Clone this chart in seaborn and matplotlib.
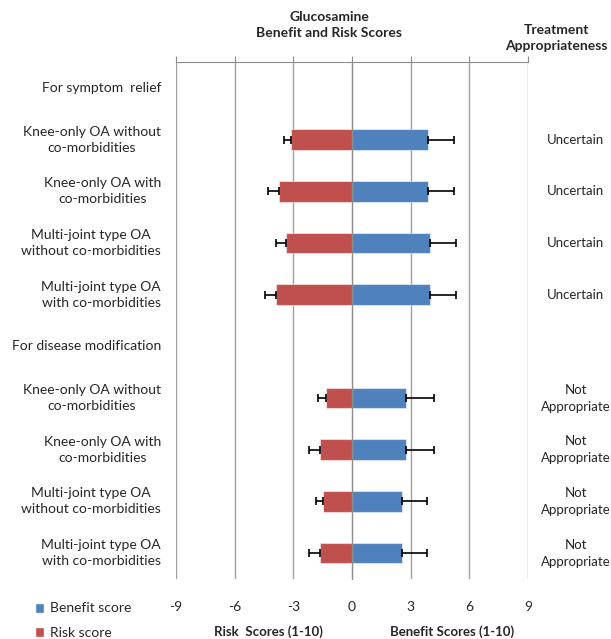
import numpy as np
import pandas as pd
import matplotlib
matplotlib.use("Agg")
import matplotlib.pyplot as plt
import seaborn as sns
from matplotlib.patches import Patch

# --- DATA ---
row_labels = [
    "For symptom  relief",
    "Knee-only OA without\nco-morbidities",
    "Knee-only OA with\nco-morbidities",
    "Multi-joint type OA\nwithout co-morbidities",
    "Multi-joint type OA\nwith co-morbidities",
    "For disease modification",
    "Knee-only OA without\nco-morbidities",
    "Knee-only OA with\nco-morbidities",
    "Multi-joint type OA\nwithout co-morbidities",
    "Multi-joint type OA\nwith co-morbidities",
]
benefit = [np.nan, 3.9, 3.9, 4.0, 4.0, np.nan, 2.75, 2.75, 2.55, 2.55]
benefit_err = [np.nan, 1.3, 1.3, 1.3, 1.3, np.nan, 1.45, 1.45, 1.3, 1.3]
risk = [np.nan, 3.1, 3.75, 3.35, 3.9, np.nan, 1.35, 1.65, 1.5, 1.65]
risk_err = [np.nan, 0.4, 0.55, 0.55, 0.55, np.nan, 0.4, 0.55, 0.35, 0.55]
appropriateness = ["", "Uncertain", "Uncertain", "Uncertain", "Uncertain", "",
                   "Not\nAppropriate", "Not\nAppropriate", "Not\nAppropriate", "Not\nAppropriate"]
x_ticks = [-9, -6, -3, 0, 3, 6, 9]

BLUE = "#4F81BD"
RED = "#C0504D"
GRID = "#A0A0A0"

sns.set_style("white")
plt.rcParams["font.family"] = ["Lato", "DejaVu Sans"]

keys = [f"row{i}" for i in range(len(row_labels))]
df = pd.DataFrame({
    "row": keys * 2,
    "score": benefit + [-r for r in risk],
    "series": ["Benefit score"] * len(keys) + ["Risk score"] * len(keys),
})
df = df.dropna()

fig = plt.figure(figsize=(6.11, 6.39), dpi=100)
ax = fig.add_axes([176 / 611, 1 - 579 / 639, 352 / 611, 517 / 639])

sns.barplot(data=df, x="score", y="row", hue="series", order=keys, dodge=False,
            palette={"Benefit score": BLUE, "Risk score": RED}, width=0.4,
            saturation=1, orient="h", errorbar=None, legend=False, ax=ax,
            edgecolor=(1, 1, 1, 0.5), linewidth=0.8)

# one-sided error bars
ypos = np.arange(len(keys))
b = np.array(benefit)
be = np.array(benefit_err)
r = -np.array(risk)
re_ = np.array(risk_err)
ax.errorbar(b, ypos, xerr=[np.zeros_like(be), be], fmt="none", ecolor="black",
            elinewidth=1.2, capsize=3, capthick=1.2, zorder=5)
ax.errorbar(r, ypos, xerr=[re_, np.zeros_like(re_)], fmt="none", ecolor="black",
            elinewidth=1.2, capsize=3, capthick=1.2, zorder=5)

ax.set_xlim(-9, 9)
ax.set_ylim(len(keys) - 0.5, -0.5)
ax.set_xticks(x_ticks)
ax.set_xticklabels([str(t) for t in x_ticks], fontsize=10)
ax.xaxis.set_ticks_position("top")
ax.tick_params(axis="x", which="major", direction="out", length=4, color="#8C8C8C",
               labeltop=False, labelbottom=True, pad=12)
ax.xaxis.grid(True, color=GRID, linewidth=1)
ax.set_axisbelow(True)
ax.set_xlabel("")
ax.set_ylabel("")

# category axis drawn through zero, ticks between categories
ax.spines["left"].set_position(("data", 0))
ax.spines["left"].set_color("#8C8C8C")
ax.spines["top"].set_color("#8C8C8C")
ax.spines["right"].set_visible(False)
ax.spines["bottom"].set_visible(False)
ax.set_yticks(ypos)
ax.set_yticklabels([])
ax.set_yticks(np.arange(len(keys)) + 0.5, minor=True)
ax.tick_params(axis="y", which="major", length=0)
ax.tick_params(axis="y", which="minor", direction="out", length=3, color="#8C8C8C")

# row labels on the left, appropriateness on the right
for i, lab in enumerate(row_labels):
    yfig = ax.transData.transform((0, i))[1] / fig.dpi / 6.39
    fig.text(161 / 611, yfig, lab, ha="right", va="center", multialignment="center",
             fontsize=10, linespacing=1.4)
    if appropriateness[i]:
        fig.text(576 / 611, yfig, appropriateness[i], ha="center", va="center",
                 fontsize=9.5, linespacing=1.5)

fig.text(329 / 611, 1 - 25 / 639, "Glucosamine\nBenefit and Risk Scores", ha="center",
         va="center", fontsize=10, fontweight="bold", linespacing=1.4)
fig.text(556 / 611, 1 - 38 / 639, "Treatment\nAppropriateness", ha="center",
         va="center", fontsize=10, fontweight="bold", linespacing=1.35)
fig.text(268 / 611, 1 - 632 / 639, "Risk  Scores (1-10)", ha="center", va="center",
         fontsize=9.5, fontweight="bold")
fig.text(452 / 611, 1 - 632 / 639, "Benefit Scores (1-10)", ha="center", va="center",
         fontsize=9.5, fontweight="bold")

handles = [Patch(facecolor=BLUE, label="Benefit score"),
           Patch(facecolor=RED, label="Risk score")]
fig.legend(handles=handles, loc="upper left", bbox_to_anchor=(22 / 611, 1 - 590 / 639),
           frameon=False, fontsize=10, handlelength=0.7, handleheight=0.7,
           labelspacing=0.9, handletextpad=0.4)

fig.savefig("out.png", dpi=100)
